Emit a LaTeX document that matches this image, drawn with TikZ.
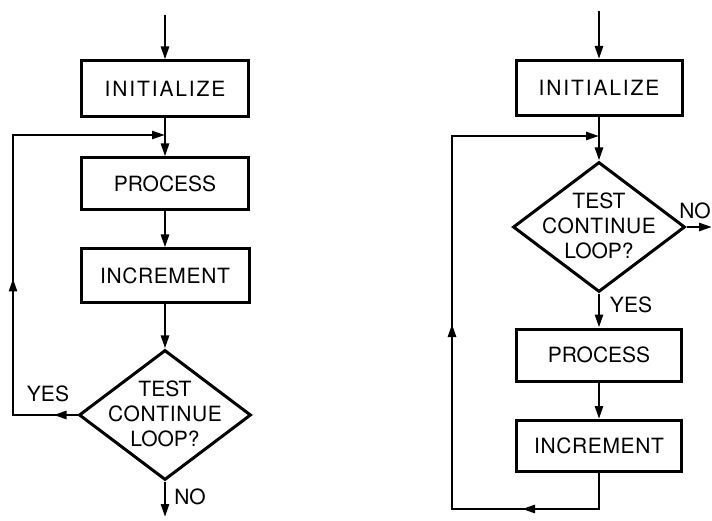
\documentclass[tikz,border=0pt]{standalone}
\usepackage{fontspec}
\setmainfont{TeX Gyre Heros}
\usetikzlibrary{arrows.meta,shapes.geometric,decorations.markings}
\newcommand{\wideI}{\addfontfeature{LetterSpace=9}}
\newcommand{\wideS}{\addfontfeature{LetterSpace=3}}
\begin{document}
\begin{tikzpicture}[x=1pt,y=-1pt,
  every node/.style={font=\fontsize{21}{25}\selectfont},
  box/.style={draw, line width=3pt, minimum width=167pt, minimum height=54pt, inner sep=0pt},
  dec/.style={draw, diamond, line width=3pt, minimum width=172pt, minimum height=130pt, inner sep=0pt},
  conn/.style={line width=2.6pt},
  tip/.style={-{Triangle[length=13pt,width=8pt]}},
  lbl/.style={inner sep=0pt},
  midtips/.style 2 args={postaction=decorate, decoration={markings,
     mark=at position #1 with {\arrow{Triangle[length=13pt,width=8pt]}},
     mark=at position #2 with {\arrow{Triangle[length=13pt,width=8pt]}}}}
]
\useasboundingbox (0,0) rectangle (712,521);

% ---- left flowchart ----
\coordinate (s1) at (165,15);
\node[box, minimum height=56pt] (init1) at (165,89) {\wideI INITIALIZE};
\coordinate (join1) at (165,135);
\node[box, minimum height=52pt] (proc1) at (165,184) {PROCESS};
\node[box, minimum width=168pt] (inc1) at (165,276) {\wideS INCREMENT};
\node[dec] (dec1) at (165,415) {};
\node[lbl, align=center] (dec1t) at (165,414) {TEST\\\wideS CONTINUE\\LOOP?};
\coordinate (end1) at (165,517);
\coordinate (cl1) at (13,415);
\coordinate (cl2) at (13,135);
\node[lbl] (yes1) at (48,394) {YES};
\node[lbl] (no1) at (190,497) {NO};

\draw[conn,tip] (s1) -- (init1);
\draw[conn,tip] (init1) -- (proc1);
\draw[conn,tip] (proc1) -- (inc1);
\draw[conn,tip] (inc1) -- (dec1);
\draw[conn,tip] (dec1) -- (end1);
\draw[conn,tip,midtips={24pt}{201pt}] (dec1.west) -- (cl1) -- (cl2) -- (join1);

% ---- right flowchart ----
\coordinate (s2) at (599,11);
\node[box, minimum width=166pt, minimum height=55pt] (init2) at (599,88) {\wideI INITIALIZE};
\coordinate (join2) at (599,136);
\node[dec] (dec2) at (599,227) {};
\node[lbl, align=center] (dec2t) at (599,226) {TEST\\\wideS CONTINUE\\LOOP?};
\node[box, minimum width=165pt, minimum height=52pt] (proc2) at (599,355) {PROCESS};
\node[box, minimum width=165pt, minimum height=51pt] (inc2) at (599,446) {\wideS INCREMENT};
\coordinate (endr) at (712,227);
\coordinate (cr1) at (599,509);
\coordinate (cr2) at (452,509);
\coordinate (cr3) at (452,136);
\node[lbl] (no2) at (695,211) {NO};
\node[lbl] (yes2) at (631,305) {YES};

\draw[conn,tip] (s2) -- (init2);
\draw[conn,tip] (init2) -- (dec2);
\draw[conn,tip] (dec2) -- (proc2);
\draw[conn,tip] (proc2) -- (inc2);
\draw[conn,tip] (dec2.east) -- (endr);
\draw[conn,tip,midtips={113pt}{368pt}] (inc2.south) -- (cr1) -- (cr2) -- (cr3) -- (join2);
\end{tikzpicture}
\end{document}
